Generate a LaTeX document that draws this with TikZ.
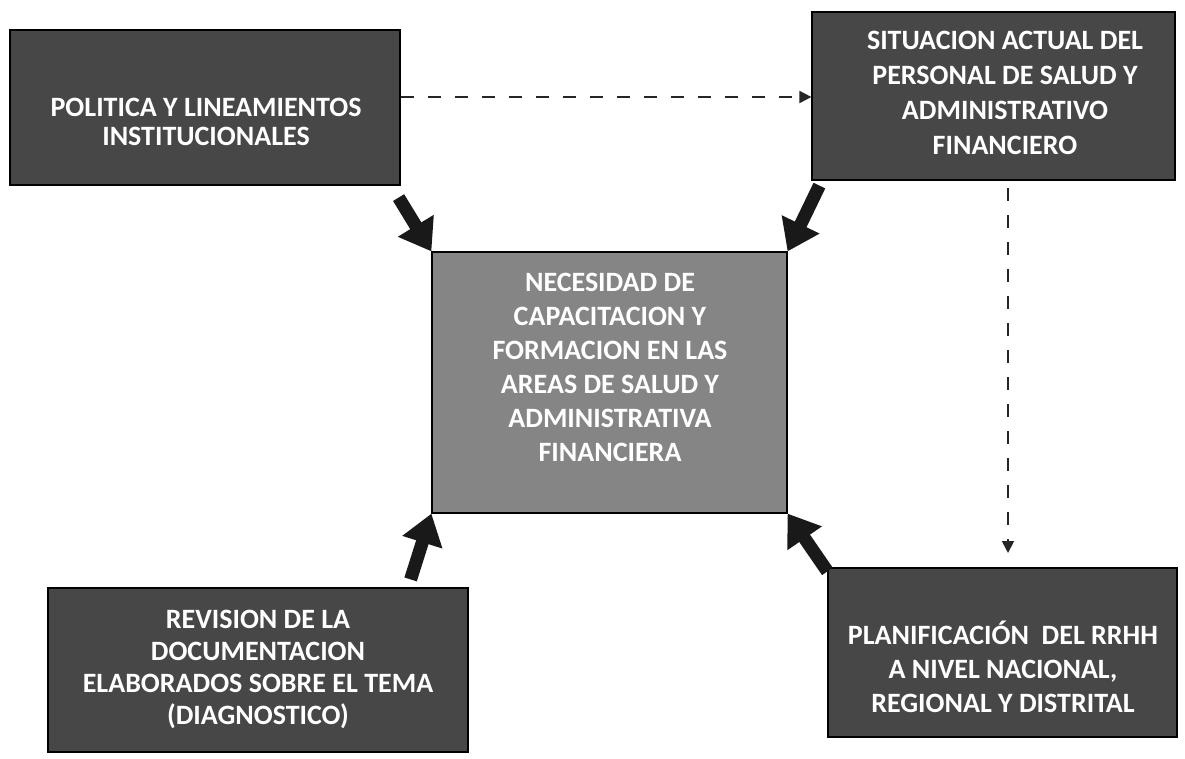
\documentclass[tikz,border=0pt]{standalone}
\usepackage{fontspec}
\setmainfont{Carlito}
\usetikzlibrary{arrows.meta,calc}
\begin{document}
\begin{tikzpicture}[x=1pt,y=-1pt,
  darkbox/.style={draw=black, line width=1.2pt, fill=black!72, inner sep=0pt},
  lightbox/.style={draw=black, line width=1.2pt, fill=black!48, inner sep=0pt},
  boxtext/.style={text=white, align=center, font=\bfseries\fontsize{28}{#1}\selectfont, inner sep=0pt},
  bigarrow/.style={line width=13pt, -{Triangle[width=40pt,length=30pt]}, black!90},
  dasharrow/.style={line width=1.8pt, dash pattern=on 13pt off 14pt, -{Triangle[width=12pt,length=12pt]}, black!85}]
\useasboundingbox (0,0) rectangle (1185,758);
\fill[white] (0,0) rectangle (1185,758);
% boxes
\node[darkbox, minimum width=390pt, minimum height=155pt] (pol) at (205,107.5) {};
\node[darkbox, minimum width=363pt, minimum height=168pt] (sit) at (993.5,96) {};
\node[lightbox, minimum width=355pt, minimum height=261pt] (nec) at (609.5,382.5) {};
\node[darkbox, minimum width=420pt, minimum height=164pt] (rev) at (258,670) {};
\node[darkbox, minimum width=349pt, minimum height=169pt] (pla) at (1002.5,652.5) {};
% texts
\node[boxtext=29pt] (tpol) at (206,122) {POLITICA Y LINEAMIENTOS\\INSTITUCIONALES};
\node[boxtext=35pt] (tsit) at (1005,93) {SITUACION ACTUAL DEL\\PERSONAL DE SALUD Y\\ADMINISTRATIVO\\FINANCIERO};
\node[boxtext=34pt] (tnec) at (610,367) {NECESIDAD DE\\CAPACITACION Y\\FORMACION EN LAS\\AREAS DE SALUD Y\\ADMINISTRATIVA\\FINANCIERA};
\node[boxtext=32pt] (trev) at (258,669) {REVISION DE LA\\DOCUMENTACION\\ELABORADOS SOBRE EL TEMA\\(DIAGNOSTICO)};
\node[boxtext=34pt] (tpla) at (1003,667) {PLANIFICACIÓN\ \ DEL RRHH\\A NIVEL NACIONAL,\\REGIONAL Y DISTRITAL};
% arrow tails
\coordinate (a1) at ($(pol.south east)+(-2,12)$);
\coordinate (a2) at ($(sit.south west)+(8,5)$);
\coordinate (a3) at ($(rev.north east)+(-58,-8)$);
\coordinate (a4) at ($(pla.north west)+(0,4)$);
\draw[bigarrow] (a1) -- (nec.north west);
\draw[bigarrow] (a2) -- (nec.north east);
\draw[bigarrow] (a3) -- (nec.south west);
\draw[bigarrow] (a4) -- (nec.south east);
% dashed connectors
\draw[dasharrow] (pol.east |- 0,97) -- (sit.west |- 0,97);
\coordinate (d1) at (1008,188);
\coordinate (d2) at (1008,553);
\draw[dasharrow] (d1) -- (d2);
\end{tikzpicture}
\end{document}
